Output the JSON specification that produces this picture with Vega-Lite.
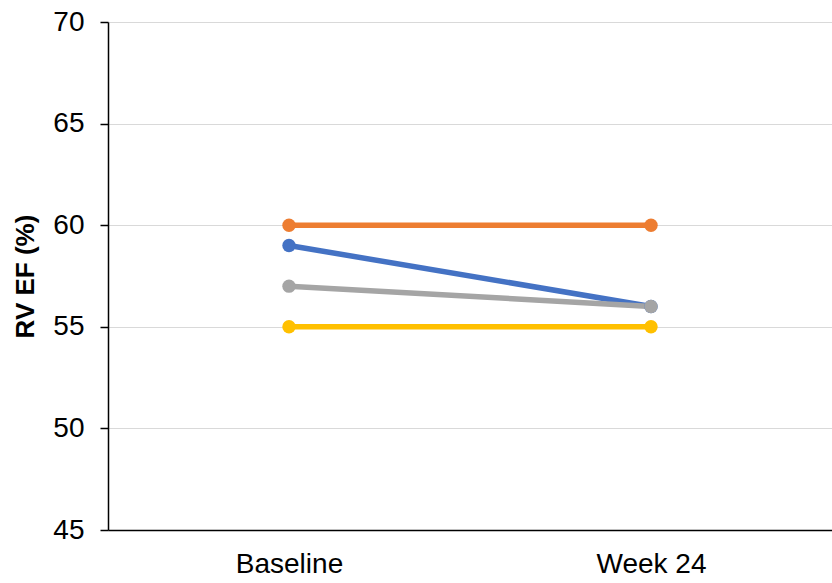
{
  "$schema": "https://vega.github.io/schema/vega-lite/v6.json",
  "width": 724,
  "height": 508,
  "autosize": "none",
  "padding": {"left": 108, "top": 22, "right": 0, "bottom": 53},
  "background": "white",
  "config": {"view": {"stroke": null}, "font": "Liberation Sans"},
  "data": {"values": [
    {"time": "Baseline", "series": "A", "value": 59},
    {"time": "Week 24", "series": "A", "value": 56},
    {"time": "Baseline", "series": "B", "value": 60},
    {"time": "Week 24", "series": "B", "value": 60},
    {"time": "Baseline", "series": "C", "value": 57},
    {"time": "Week 24", "series": "C", "value": 56},
    {"time": "Baseline", "series": "D", "value": 55},
    {"time": "Week 24", "series": "D", "value": 55}
  ]},
  "encoding": {
    "x": {"field": "time", "type": "nominal", "sort": ["Baseline", "Week 24"],
      "scale": {"type": "point", "padding": 0.5},
      "axis": {"title": null, "labelAngle": 0, "labelFontSize": 28, "labelColor": "black", "labelPadding": 20, "ticks": false, "domainColor": "black", "domainWidth": 1.5, "grid": false}},
    "y": {"field": "value", "type": "quantitative",
      "scale": {"domain": [45, 70], "zero": false, "nice": false},
      "axis": {"title": "RV EF (%)", "titleFontSize": 26, "titleFontWeight": "bold", "titleColor": "black", "titlePadding": 14,
        "values": [45, 50, 55, 60, 65, 70], "labelFontSize": 28, "labelColor": "black", "labelPadding": 16,
        "tickSize": 8, "tickColor": "black", "tickWidth": 1.5, "domainColor": "black", "domainWidth": 1.5,
        "gridColor": "#d9d9d9", "gridWidth": 1.2}},
    "color": {"field": "series", "type": "nominal", "legend": null,
      "scale": {"domain": ["A", "B", "C", "D"], "range": ["#4472C4", "#ED7D31", "#A5A5A5", "#FFC000"]}},
    "detail": {"field": "series"}
  },
  "layer": [
    {"mark": {"type": "line", "strokeWidth": 5.5}},
    {"mark": {"type": "point", "filled": true, "opacity": 1, "size": 180}}
  ]
}
